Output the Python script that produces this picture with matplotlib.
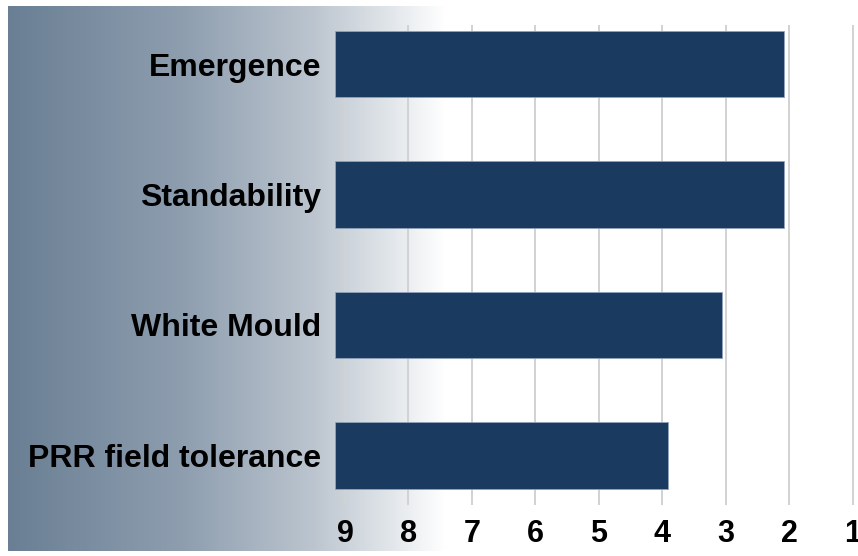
import numpy as np
import matplotlib
matplotlib.use("Agg")
import matplotlib.pyplot as plt
from matplotlib.colors import LinearSegmentedColormap

# data
traits = ["Emergence", "Standability", "White Mould", "PRR field tolerance"]
scores = [2.08, 2.08, 3.06, 3.92]
ticks = [9, 8, 7, 6, 5, 4, 3, 2, 1]

plt.rcParams['font.family'] = ['Liberation Sans', 'DejaVu Sans']

W, H = 858, 556
fig = plt.figure(figsize=(W / 100, H / 100), dpi=100)

# gradient panel on the left
bg = fig.add_axes([8 / W, (H - 551) / H, (445 - 8) / W, (551 - 6) / H])
cmap = LinearSegmentedColormap.from_list(
    "panel", [(0.0, "#6a7f94"), (0.4, "#8e9eaf"), (0.7, "#bcc5cf"),
              (0.88, "#e3e7eb"), (1.0, "#ffffff")])
grad = np.linspace(0, 1, 256).reshape(1, -1)
bg.imshow(grad, aspect="auto", cmap=cmap, extent=[0, 1, 0, 1])
bg.set_axis_off()

ax = fig.add_axes([335 / W, (H - 505) / H, (W - 335) / W, 480 / H])
ax.set_facecolor("none")

x0, x1 = 9.157, 0.921
ax.set_xlim(x0, x1)
ax.set_ylim(3.38, -0.3)

y = np.arange(len(traits))
vals = np.array(scores)
ax.barh(y, x0 - vals, left=vals, height=0.51, color="#1b3a5f",
        edgecolor="#8fa3bb", linewidth=0.6, zorder=3)

ax.set_xticks(ticks)
ax.set_xticklabels([str(t) for t in ticks], fontsize=22, fontweight="bold")
ax.set_yticks(y)
ax.set_yticklabels(traits, fontsize=23, fontweight="bold")
ax.tick_params(axis="both", length=0)
ax.tick_params(axis="x", pad=10)
ax.tick_params(axis="y", pad=10)
ax.grid(axis="x", color="#d2d2d2", linewidth=1.4, zorder=0)
ax.set_axisbelow(True)
for s in ax.spines.values():
    s.set_visible(False)

fig.savefig("out.png", dpi=100)
